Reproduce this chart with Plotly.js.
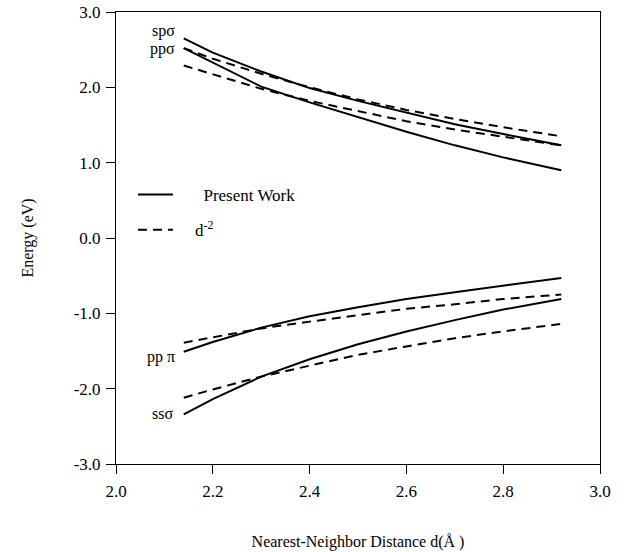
<!DOCTYPE html>
<html>
<head>
<meta charset="utf-8">
<script src="https://cdn.plot.ly/plotly-3.0.1.min.js"></script>
<style>html,body{margin:0;padding:0;background:#fff;}#chart{width:634px;height:552px;}</style>
</head>
<body>
<div id="chart"></div>
<script>
// Nearest-neighbor distance (Å)
const distance = [2.14, 2.2, 2.3, 2.4, 2.5, 2.6, 2.7, 2.8, 2.92];

// Present Work (solid)
const spSigmaPresent = [2.65, 2.46, 2.21, 1.99, 1.82, 1.66, 1.51, 1.38, 1.23];
const ppSigmaPresent = [2.52, 2.33, 2.01, 1.80, 1.60, 1.41, 1.23, 1.07, 0.90];
const ppPiPresent    = [-1.51, -1.38, -1.19, -1.04, -0.92, -0.81, -0.72, -0.63, -0.53];
const ssSigmaPresent = [-2.34, -2.14, -1.84, -1.61, -1.41, -1.24, -1.09, -0.95, -0.81];

// d^-2 scaling (dashed)
const spSigmaD2 = [2.52, 2.38, 2.18, 2.00, 1.84, 1.70, 1.58, 1.47, 1.35];
const ppSigmaD2 = [2.29, 2.17, 1.98, 1.82, 1.68, 1.55, 1.44, 1.34, 1.23];
const ppPiD2    = [-1.39, -1.32, -1.20, -1.11, -1.02, -0.94, -0.88, -0.81, -0.75];
const ssSigmaD2 = [-2.12, -2.01, -1.84, -1.69, -1.55, -1.44, -1.33, -1.24, -1.14];

const yTickVals = [-3, -2, -1, 0, 1, 2, 3];
const yTickText = ['-3.0', '-2.0', '-1.0', '0.0', '1.0', '2.0', '3.0'];
const xTickVals = [2.0, 2.2, 2.4, 2.6, 2.8, 3.0];
const xTickText = ['2.0', '2.2', '2.4', '2.6', '2.8', '3.0'];

const FONT = 'Liberation Serif, Times New Roman, serif';
const NB = '\u00a0';

function solid(y, show) {
  return {x: distance, y: y, mode: 'lines', type: 'scatter',
    line: {color: '#000', width: 2, dash: 'solid'},
    name: NB.repeat(6) + 'Present Work', legendgroup: 'a', showlegend: show, hoverinfo: 'skip'};
}
function dashed(y, show) {
  return {x: distance, y: y, mode: 'lines', type: 'scatter',
    line: {color: '#000', width: 2, dash: '9px,6px'},
    name: NB.repeat(4) + 'd<sup>-2</sup>', legendgroup: 'b', showlegend: show, hoverinfo: 'skip'};
}

const data = [
  solid(spSigmaPresent, true), solid(ppSigmaPresent, false),
  solid(ppPiPresent, false), solid(ssSigmaPresent, false),
  dashed(spSigmaD2, true), dashed(ppSigmaD2, false),
  dashed(ppPiD2, false), dashed(ssSigmaD2, false)
];

const labelFont = {family: FONT, size: 16, color: '#000'};
const layout = {
  width: 634, height: 552,
  margin: {l: 116, r: 34, t: 12, b: 88},
  paper_bgcolor: '#fff', plot_bgcolor: '#fff',
  font: {family: FONT, size: 16, color: '#000'},
  showlegend: true,
  legend: {x: 0.035, y: 0.635, xanchor: 'left', yanchor: 'top',
    bgcolor: 'rgba(0,0,0,0)', borderwidth: 0,
    font: {family: FONT, size: 17, color: '#000'},
    traceorder: 'grouped', tracegroupgap: 10, itemwidth: 35},
  xaxis: {range: [2.0, 3.0], tickvals: xTickVals, ticktext: xTickText,
    ticks: 'outside', ticklen: 9, tickwidth: 1, tickcolor: '#000',
    ticklabelstandoff: 3,
    showline: true, linecolor: '#000', linewidth: 1, mirror: true,
    showgrid: false, zeroline: false,
    tickfont: {family: FONT, size: 17, color: '#000'},
    title: {text: 'Nearest-Neighbor Distance d(Å )', font: {family: FONT, size: 16, color: '#000'}, standoff: 35}},
  yaxis: {range: [-3.0, 3.0], tickvals: yTickVals, ticktext: yTickText,
    ticks: 'outside', ticklen: 9, tickwidth: 1, tickcolor: '#000',
    ticklabelstandoff: 2,
    showline: true, linecolor: '#000', linewidth: 1, mirror: true,
    showgrid: false, zeroline: false,
    tickfont: {family: FONT, size: 17, color: '#000'},
    title: {text: 'Energy (eV)', font: {family: FONT, size: 16, color: '#000'}, standoff: 36}},
  annotations: [
    {x: 2.125, y: 2.745, xref: 'x', yref: 'y', text: 'spσ', showarrow: false, xanchor: 'right', font: labelFont},
    {x: 2.125, y: 2.51, xref: 'x', yref: 'y', text: 'ppσ', showarrow: false, xanchor: 'right', font: labelFont},
    {x: 2.125, y: -1.58, xref: 'x', yref: 'y', text: 'pp π', showarrow: false, xanchor: 'right', font: labelFont},
    {x: 2.122, y: -2.33, xref: 'x', yref: 'y', text: 'ssσ', showarrow: false, xanchor: 'right', font: labelFont}
  ]
};

Plotly.newPlot('chart', data, layout, {staticPlot: true, displayModeBar: false});
</script>
</body>
</html>
